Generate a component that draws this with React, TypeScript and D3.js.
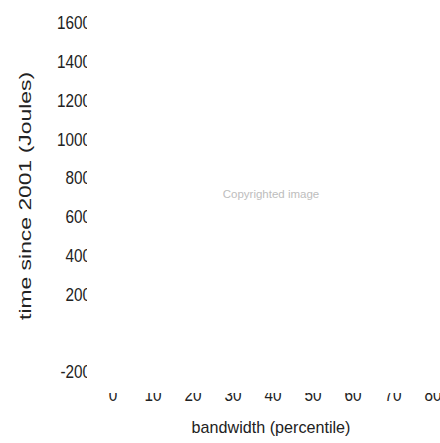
import React from "react";
import * as d3 from "d3";

// chart size
const width = 440;
const height = 443;

// tick values (no label shows at 0)
const yTicks = [1600, 1400, 1200, 1000, 800, 600, 400, 200, -200];
const xTicks = [0, 10, 20, 30, 40, 50, 60, 70, 80];

const yTitle = "time since 2001 (Joules)";
const xTitle = "bandwidth (percentile)";
const watermark = "Copyrighted image";

// scales
const x = d3.scaleLinear().domain([0, 80]).range([113, 433]);
const y = d3.scaleLinear().domain([-200, 1600]).range([372, 23]);

// the plot area is covered by a blank box that cuts the tick labels
const coverLeft = 87;
const coverBottom = 393;

const font = "'Liberation Sans', Arial, sans-serif";
const ink = "#222";

export default function App() {
  return (
    <svg
      width={width}
      height={height}
      style={{ position: "absolute", left: 0, top: 0, background: "#fff" }}
    >
      <defs>
        <clipPath id="clip-y">
          <rect x={0} y={0} width={coverLeft} height={height} />
        </clipPath>
        <clipPath id="clip-x">
          <rect x={0} y={coverBottom} width={width} height={height - coverBottom} />
        </clipPath>
      </defs>

      {/* y tick labels */}
      <g clipPath="url(#clip-y)" fontFamily={font} fontSize={18} fill={ink}>
        {yTicks.map(t => (
          <g key={t} transform={`translate(91,${y(t)}) scale(0.85,1)`}>
            <text textAnchor="end" dy="0.35em">{t}</text>
          </g>
        ))}
      </g>

      {/* x tick labels */}
      <g clipPath="url(#clip-x)" fontFamily={font} fontSize={18} fill={ink}>
        {xTicks.map(t => (
          <g key={t} transform={`translate(${x(t)},401) scale(0.85,1)`}>
            <text textAnchor="middle">{t}</text>
          </g>
        ))}
      </g>

      {/* watermark */}
      <text
        x={271}
        y={198}
        textAnchor="middle"
        fontFamily={font}
        fontSize={11.5}
        fill="#bdbdbd"
      >
        {watermark}
      </text>

      {/* axis titles */}
      <g transform="translate(271,433) scale(0.95,1)">
        <text textAnchor="middle" fontFamily={font} fontSize={17} fill={ink}>
          {xTitle}
        </text>
      </g>
      <text
        transform="translate(25,196) rotate(-90)"
        textAnchor="middle"
        dy="0.35em"
        fontFamily={font}
        fontSize={16}
        fill={ink}
        textLength={248}
        lengthAdjust="spacingAndGlyphs"
      >
        {yTitle}
      </text>
    </svg>
  );
}
